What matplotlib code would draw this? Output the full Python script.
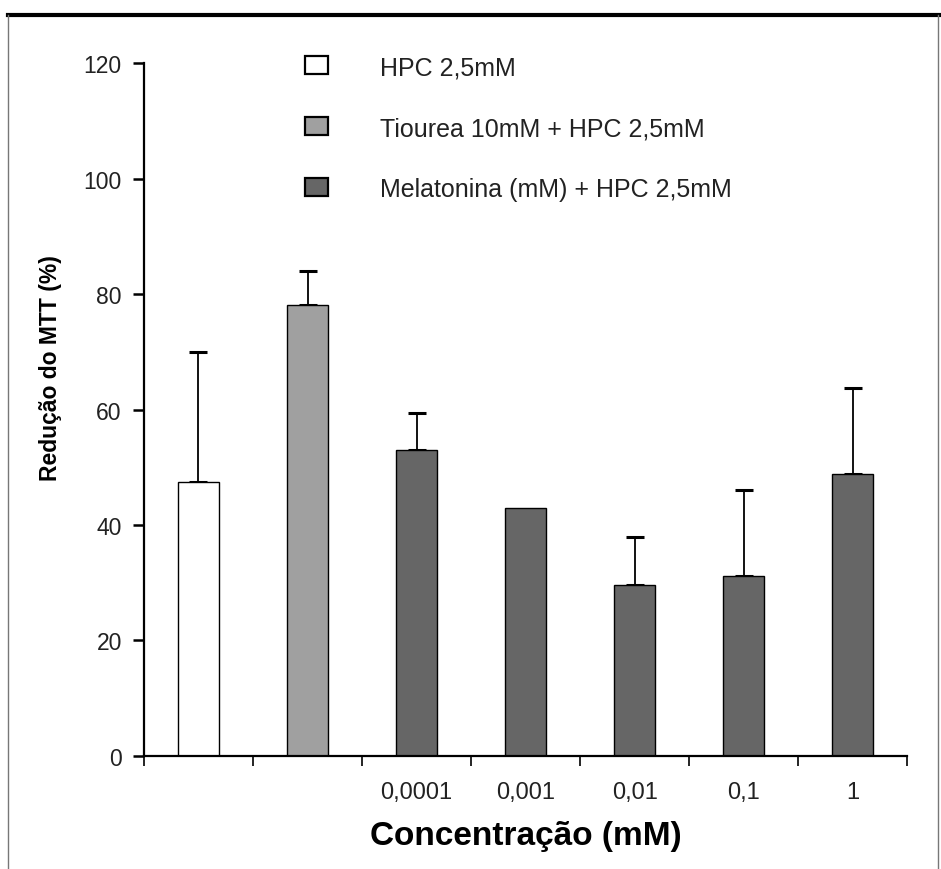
import matplotlib
matplotlib.use("Agg")
import matplotlib.pyplot as plt
from matplotlib.patches import Patch
from matplotlib.lines import Line2D

plt.rcParams['font.family'] = ['Liberation Sans', 'DejaVu Sans']

groups = ["HPC", "Tiourea", "0,0001", "0,001", "0,01", "0,1", "1"]
tick_labels = ["", "", "0,0001", "0,001", "0,01", "0,1", "1"]
values = [47.5, 78.2, 53.0, 43.0, 29.7, 31.2, 48.8]
errors = [22.5, 5.8, 6.5, 0.0, 8.3, 14.8, 14.9]
series_of_bar = [0, 1, 2, 2, 2, 2, 2]
legend_labels = ["HPC 2,5mM", "Tiourea 10mM + HPC 2,5mM", "Melatonina (mM) + HPC 2,5mM"]
colors = ["#ffffff", "#a0a0a0", "#666666"]

fig = plt.figure(figsize=(9.41, 8.70), dpi=100)
ax = fig.add_axes([0.153, 0.130, 0.811, 0.796])

x = list(range(len(values)))
bar_colors = [colors[s] for s in series_of_bar]
ax.bar(x, values, width=0.37, color=bar_colors, edgecolor="black", linewidth=1.0, zorder=2)
err_x = [xi for xi, e in zip(x, errors) if e > 0]
err_v = [v for v, e in zip(values, errors) if e > 0]
err_e = [e for e in errors if e > 0]
ax.errorbar(err_x, err_v, yerr=[[0]*len(err_e), err_e], fmt="none", ecolor="black",
            elinewidth=1.3, capsize=6.5, capthick=2.2, zorder=1)

ax.set_xlim(-0.5, len(values) - 0.5)
ax.set_ylim(0, 120)
ax.set_yticks(range(0, 121, 20))
ax.set_xticks(x)
ax.set_xticklabels(tick_labels, fontsize=17, color="#222222")
ax.tick_params(axis="x", length=0, pad=18)
ax.set_xticks([i - 0.5 for i in range(len(values) + 1)], minor=True)
ax.tick_params(axis="x", which="minor", length=7, width=1.2, direction="out")
ax.tick_params(axis="y", length=8, width=1.8, labelsize=16.5, pad=8, labelcolor="#222222")
for sp in ["top", "right"]:
    ax.spines[sp].set_visible(False)
ax.spines["left"].set_linewidth(1.6)
ax.spines["bottom"].set_linewidth(1.6)

ax.set_ylabel("Redução do MTT (%)", fontsize=16.5, fontweight="bold")
ax.yaxis.set_label_coords(-0.107, 0.561)
ax.set_xlabel("Concentração (mM)", fontsize=24, fontweight="bold", va="top")
ax.xaxis.set_label_coords(0.5, -0.093)

handles = [Patch(facecolor=c, edgecolor="black", linewidth=1.6) for c in colors]
ax.legend(handles, legend_labels, loc="upper left", bbox_to_anchor=(0.211, 1.012),
          borderpad=0, borderaxespad=0,
          frameon=False, fontsize=18, handlelength=0.92, handleheight=0.72,
          handletextpad=2.1, labelspacing=1.48, labelcolor="#222222")

# figure border
fig.add_artist(Line2D([0.008, 0.998], [0.982, 0.982], transform=fig.transFigure,
                      color="black", linewidth=3))
fig.add_artist(Line2D([0.009, 0.009], [0.0, 0.982], transform=fig.transFigure,
                      color="#777777", linewidth=1))
fig.add_artist(Line2D([0.997, 0.997], [0.0, 0.982], transform=fig.transFigure,
                      color="#777777", linewidth=1))

fig.savefig("out.png", dpi=100)
